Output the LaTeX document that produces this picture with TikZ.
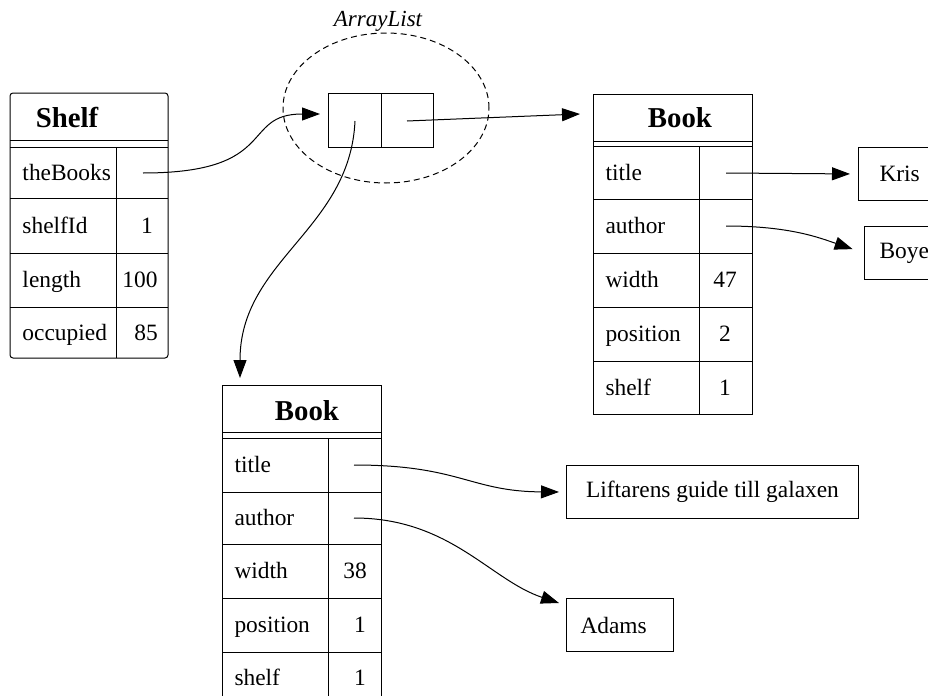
\documentclass[tikz,border=0pt]{standalone}
\usepackage{fontspec}
\setmainfont{Liberation Serif}
\usetikzlibrary{arrows.meta}
\tikzset{
  txt/.style={inner sep=0pt, text height=9pt, text depth=1.5pt,
    font=\fontsize{11.7}{14}\selectfont},
  fld/.style={txt, anchor=west},
  hdr/.style={inner sep=0pt, anchor=base,
    font=\fontsize{14.4}{17}\selectfont\bfseries},
  strobj/.style={draw, anchor=north west, inner sep=0pt,
    minimum height=26.5pt, font=\fontsize{11.7}{14}\selectfont},
}
\begin{document}
\begin{tikzpicture}[x=0.5pt,y=-0.5pt,line width=0.5pt,
    >={Triangle[length=9pt,width=6.5pt]}]
\useasboundingbox (0,0) rectangle (928,696);
\clip (0,0) rectangle (928,696);
% Shelf object
\draw[rounded corners=1.5pt] (10,93) rectangle (168,358);
\draw (10,140) -- (168,140) (10,147) -- (168,147)
  (10,198) -- (168,198) (10,253) -- (168,253)
  (10,307) -- (168,307) (116,147) -- (116,358);
\node[hdr] (shelf) at (67,127) {Shelf};
\node[fld] (sbooks) at (22,172.5) {theBooks};
\node[fld] (sid) at (22,225.5) {shelfId};
\node[fld] (slen) at (22,280) {length};
\node[fld] (socc) at (22,332.5) {occupied};
\node[txt] (sidval) at (147,225.5) {1};
\node[txt] (slenval) at (140,280) {100};
\node[txt] (soccval) at (146,332.5) {85};
\coordinate (sptr) at (143,173);
% ArrayList
\draw[dash pattern=on 3pt off 2pt] (386,108)
  ellipse [x radius=51.5pt, y radius=37.5pt];
\node[font=\fontsize{11.5}{14}\selectfont\itshape] (alname) at (378,21) {ArrayList};
\draw (328,93) rectangle (433,147) (381,93) -- (381,147);
\coordinate (alin) at (320,114);
\coordinate (alptr) at (355,121);
\coordinate (arptr) at (407,121);
% Book, right
\draw (593,94) rectangle (752,414);
\draw (593,141) -- (752,141) (593,146) -- (752,146)
  (593,199) -- (752,199) (593,253) -- (752,253)
  (593,307) -- (752,307) (593,361) -- (752,361)
  (699,146) -- (699,414);
\node[hdr] (rbook) at (680,127) {Book};
\node[fld] (rtitle) at (605,172.5) {title};
\node[fld] (rauthor) at (605,226) {author};
\node[fld] (rwidth) at (605,280) {width};
\node[fld] (rpos) at (605,334) {position};
\node[fld] (rshelf) at (605,387.5) {shelf};
\node[txt] (rwidthval) at (725,280) {47};
\node[txt] (rposval) at (725,334) {2};
\node[txt] (rshelfval) at (725,387.5) {1};
\coordinate (rbookin) at (580,114);
\coordinate (rtptr) at (726,173);
\coordinate (raptr) at (726,226);
\node[strobj, inner xsep=10.5pt] (kris) at (858,147) {Kris};
\node[strobj, inner xsep=7.5pt, minimum height=26.5pt] (boye) at (864,226) {Boye};
% Book, lower
\draw (222,385) -- (222,710) (381,385) -- (381,710) (222,385) -- (381,385);
\draw (222,432) -- (381,432) (222,438) -- (381,438)
  (222,492) -- (381,492) (222,544) -- (381,544)
  (222,598) -- (381,598) (222,652) -- (381,652)
  (328,438) -- (328,710);
\node[hdr] (lbook) at (307,420) {Book};
\node[fld] (ltitle) at (234,465) {title};
\node[fld] (lauthor) at (234,518) {author};
\node[fld] (lwidth) at (234,571) {width};
\node[fld] (lpos) at (234,625) {position};
\node[fld] (lshelf) at (234,678) {shelf};
\node[txt] (lwidthval) at (355,571) {38};
\node[txt] (lposval) at (360,625) {1};
\node[txt] (lshelfval) at (360,678) {1};
\coordinate (lbookin) at (240,378);
\coordinate (ltptr) at (354,465);
\coordinate (laptr) at (354,518);
\node[strobj, minimum width=146pt] (lift) at (566,465) {Liftarens guide till galaxen};
\node[strobj, inner xsep=7pt, text width=39.5pt] (adams) at (566,598) {Adams};
% references
\draw[->] (sptr) .. controls (280,173) and (240,114) .. (alin);
\draw[->] (arptr) -- (rbookin);
\draw[->] (alptr) .. controls (350,230) and (240,260) .. (lbookin);
\draw[->, shorten >=4pt] (rtptr) -- (kris.west);
\draw[->, shorten >=6pt] (raptr) .. controls (790,226) and (820,238) .. (boye.west);
\draw[->, shorten >=3.5pt] (ltptr) .. controls (460,465) and (470,491.5) .. (lift.west);
\draw[->] (laptr) .. controls (450,518) and (490,580)
  .. ([xshift=-3.5pt,yshift=-2.5pt]adams.north west);
\end{tikzpicture}
\end{document}
